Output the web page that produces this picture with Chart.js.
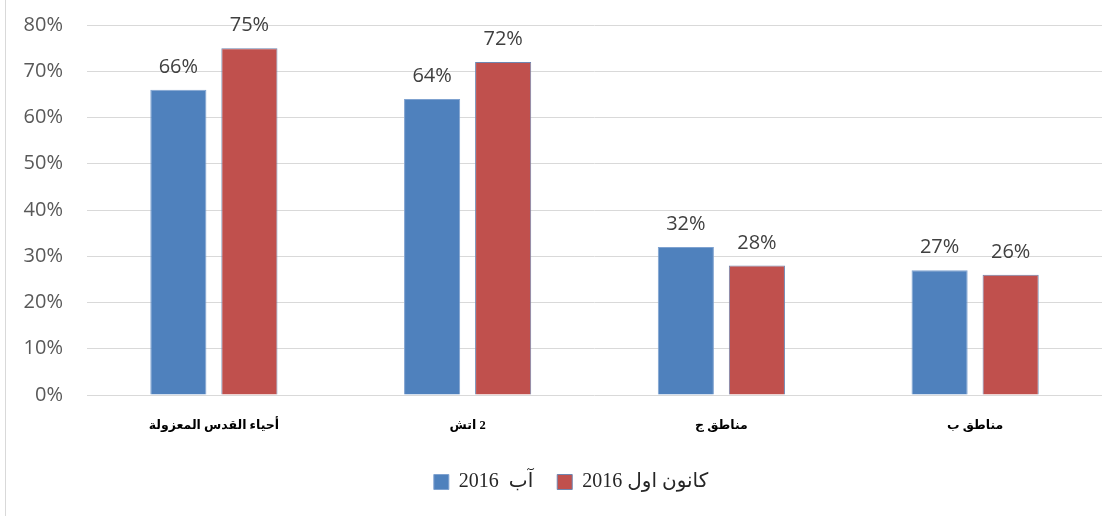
<!DOCTYPE html>
<html>
<head>
<meta charset="utf-8">
<script src="https://cdn.jsdelivr.net/npm/chart.js@4.4.1/dist/chart.umd.min.js"></script>
<style>
  html, body { margin: 0; padding: 0; background: #ffffff; }
  #wrap { position: relative; width: 1118px; height: 516px; }
  #edge { position: absolute; left: 5px; top: 0; width: 1px; height: 516px; background: #d9d9d9; }
  canvas { position: absolute; left: 0; top: 0; }
</style>
</head>
<body>
<div id="wrap">
  <div id="edge"></div>
  <canvas id="c" width="1118" height="516"></canvas>
</div>
<script>
const categories = ['أحياء القدس المعزولة', 'اتش\u200E 2', 'مناطق ج', 'مناطق ب'];
const seriesNames = ['2016  آب', '2016 كانون اول'];
const aug2016 = [66, 64, 32, 27];
const dec2016 = [75, 72, 28, 26];
const yTickValues = [0, 10, 20, 30, 40, 50, 60, 70, 80];

const BLUE = '#4F81BD';
const RED = '#C0504D';

const valueLabels = {
  id: 'valueLabels',
  afterLayout(chart) {
    if (chart.legend) { chart.legend.left += 20; chart.legend.right += 20; }
  },
  afterDatasetsDraw(chart) {
    const ctx = chart.ctx;
    ctx.save();
    ctx.font = '20px "Open Sans"';
    ctx.fillStyle = '#404040';
    ctx.textAlign = 'center';
    ctx.textBaseline = 'alphabetic';
    chart.data.datasets.forEach((ds, di) => {
      const meta = chart.getDatasetMeta(di);
      meta.data.forEach((bar, i) => {
        ctx.fillText(ds.data[i] + '%', bar.x, bar.y - 17);
      });
    });
    ctx.restore();
  }
};

new Chart(document.getElementById('c'), {
  type: 'bar',
  data: {
    labels: categories,
    datasets: [
      { label: seriesNames[0], data: aug2016, backgroundColor: BLUE, borderColor: '#7fa2d0', borderWidth: 1 },
      { label: seriesNames[1], data: dec2016, backgroundColor: RED, borderColor: '#6f86b0', borderWidth: 1 }
    ]
  },
  options: {
    responsive: false,
    animation: false,
    devicePixelRatio: 1,
    layout: { padding: { left: 0, right: 16, top: 25, bottom: 14 } },
    datasets: { bar: { categoryPercentage: 0.56, barPercentage: 0.79 } },
    scales: {
      x: {
        grid: { display: false },
        border: { display: false },
        ticks: {
          color: '#000000',
          font: { family: '"Liberation Serif", "DejaVu Sans"', size: 12.5, weight: 'bold' },
          padding: 15,
          maxRotation: 0
        },
        afterFit(s) { s.height = 53; }
      },
      y: {
        min: 0,
        max: 80,
        afterBuildTicks(s) { s.ticks = yTickValues.map(v => ({ value: v })); },
        grid: { color: '#d9d9d9', lineWidth: 1, drawTicks: false },
        border: { display: false },
        ticks: {
          color: '#595959',
          font: { family: '"Open Sans"', size: 20 },
          padding: 24,
          callback: v => v + '%'
        },
        afterFit(s) { s.width = 87; s.paddingTop = 0; s.paddingBottom = 0; }
      }
    },
    plugins: {
      legend: {
        position: 'bottom',
        labels: {
          boxWidth: 15,
          boxHeight: 15,
          padding: 24,
          color: '#262626',
          font: { family: '"Liberation Serif", "DejaVu Sans"', size: 20 }
        }
      },
      tooltip: { enabled: false }
    }
  },
  plugins: [valueLabels]
});
</script>
</body>
</html>
